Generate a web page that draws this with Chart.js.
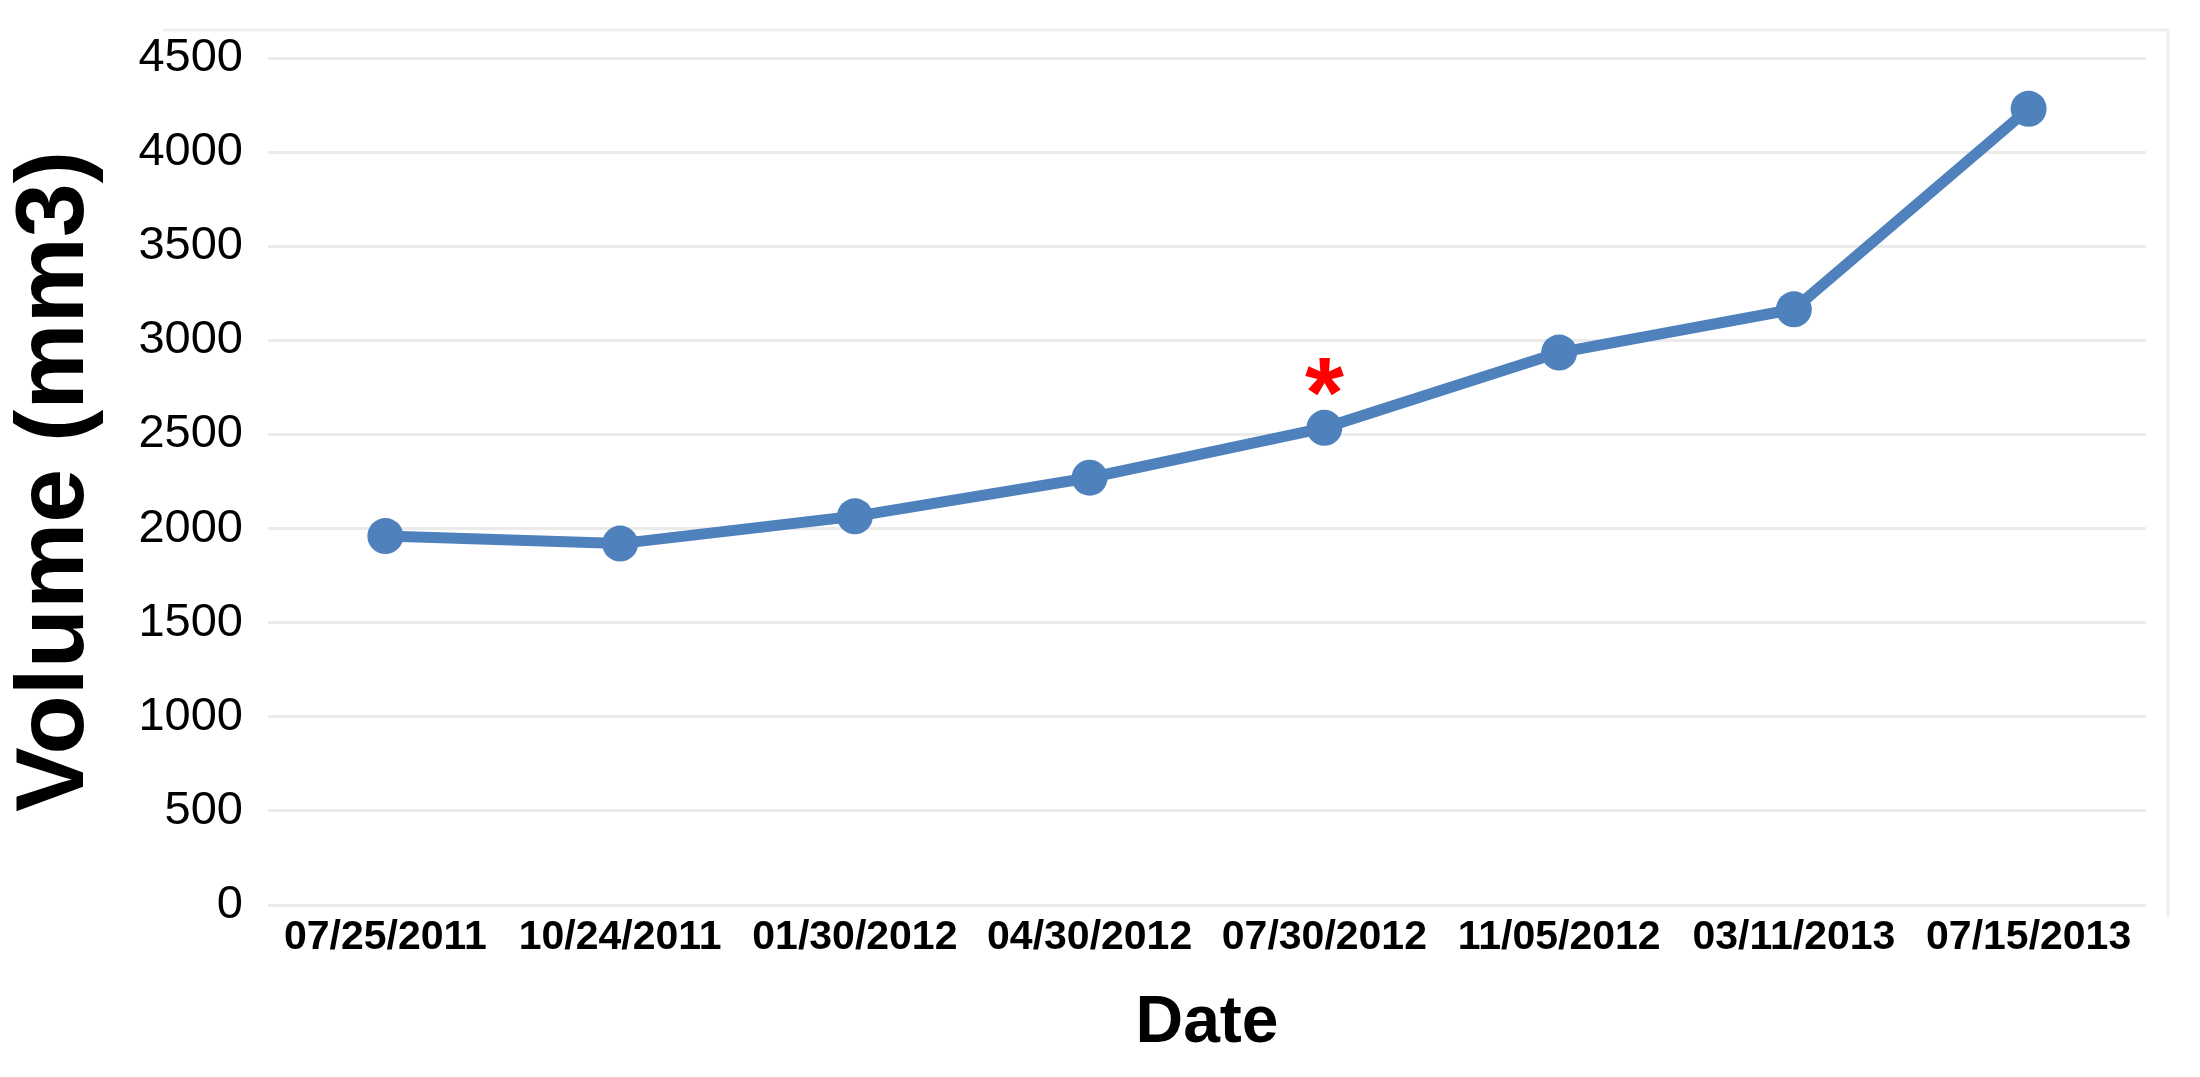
<!DOCTYPE html>
<html>
<head>
<meta charset="utf-8">
<script src="https://cdn.jsdelivr.net/npm/chart.js@4"></script>
<style>
html,body{margin:0;padding:0;background:#ffffff;}
#wrap{width:2200px;height:1077px;}
</style>
</head>
<body>
<div id="wrap"><canvas id="c" width="2200" height="1077"></canvas></div>
<script>
// ---- data ----
const categories = ['07/25/2011', '10/24/2011', '01/30/2012', '04/30/2012', '07/30/2012', '11/05/2012', '03/11/2013', '07/15/2013'];
const volumes = [1960, 1920, 2065, 2270, 2535, 2935, 3165, 4230];
const yTickValues = [0, 500, 1000, 1500, 2000, 2500, 3000, 3500, 4000, 4500];
const xTitle = 'Date';
const yTitle = 'Volume (mm3)';
const markedIndices = [4];
const markSymbol = '*';

// ---- styles ----
const FONT = '"Liberation Sans", Arial, Helvetica, sans-serif';
const BLUE = '#4f81bd';

const decor = {
  id: 'decor',
  beforeDraw(chart) {
    const {ctx, chartArea: a} = chart;
    ctx.save();
    ctx.strokeStyle = '#efefef';
    ctx.lineWidth = 3;
    ctx.beginPath();
    ctx.moveTo(a.left - 105, a.top - 28);
    ctx.lineTo(a.right + 22, a.top - 28);
    ctx.lineTo(a.right + 22, a.bottom + 12);
    ctx.stroke();
    ctx.restore();
  },
  afterDatasetsDraw(chart) {
    const {ctx} = chart;
    const meta = chart.getDatasetMeta(0);
    ctx.save();
    ctx.fillStyle = '#ff0000';
    ctx.font = 'bold 100px ' + FONT;
    ctx.textAlign = 'center';
    ctx.textBaseline = 'alphabetic';
    const m = ctx.measureText(markSymbol);
    for (const i of markedIndices) {
      const p = meta.data[i];
      const cy = p.y - 51;
      const y = cy + (m.actualBoundingBoxAscent - m.actualBoundingBoxDescent) / 2;
      ctx.fillText(markSymbol, p.x, y);
    }
    ctx.restore();
  }
};

new Chart(document.getElementById('c'), {
  type: 'line',
  data: {
    labels: categories,
    datasets: [{
      data: volumes,
      borderColor: BLUE,
      backgroundColor: BLUE,
      borderWidth: 11,
      pointRadius: 18,
      pointHoverRadius: 18,
      pointBackgroundColor: BLUE,
      pointBorderWidth: 0,
      tension: 0,
      fill: false
    }]
  },
  options: {
    responsive: false,
    animation: false,
    devicePixelRatio: 1,
    layout: { padding: { top: 58, right: 54, bottom: 0, left: 0 } },
    plugins: {
      legend: { display: false },
      tooltip: { enabled: false }
    },
    scales: {
      x: {
        offset: true,
        grid: { display: false, drawTicks: false },
        border: { display: false },
        ticks: {
          color: '#000000',
          font: { family: FONT, size: 41, weight: 'bold' },
          padding: 8,
          maxRotation: 0,
          autoSkip: false
        },
        title: {
          display: true,
          text: xTitle,
          color: '#000000',
          font: { family: FONT, size: 66, weight: 'bold', lineHeight: 1.2 },
          padding: { top: 0, bottom: 14 }
        },
        afterFit(s) { s.height = 172; }
      },
      y: {
        min: 0,
        max: 4500,
        afterBuildTicks(s) { s.ticks = yTickValues.map(v => ({ value: v })); },
        grid: { color: '#ebebeb', lineWidth: 3, drawTicks: false },
        border: { display: false },
        ticks: {
          color: '#000000',
          font: { family: FONT, size: 47 },
          padding: 25,
          callback: (v) => String(v)
        },
        title: {
          display: true,
          text: yTitle,
          color: '#000000',
          font: { family: FONT, size: 97, weight: 'bold', lineHeight: 1.15 },
          padding: 0
        },
        afterFit(s) { s.width = 268; }
      }
    }
  },
  plugins: [decor]
});
</script>
</body>
</html>
